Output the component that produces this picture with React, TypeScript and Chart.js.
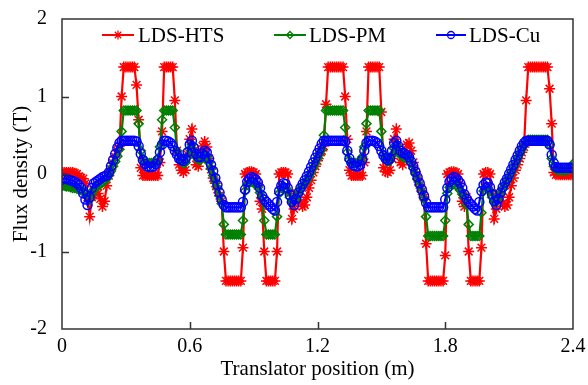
import React, { useEffect, useRef } from 'react';
import { Chart, registerables } from 'chart.js';

Chart.register(...registerables);

// sampling step of the translator position (m)
const STEP = 0.01;

// LDS-HTS flux density (T), one value per STEP from 0 to 2.4 m
const HTS = [
  0.02, 0.02, 0.02, 0.02, 0.02, 0.02, 0.01, 0.0, -0.03, -0.05,
  -0.06, -0.12, -0.3, -0.55, -0.3, -0.22, -0.2, -0.25, -0.32, -0.42,
  -0.35, -0.15, -0.02, 0.06, 0.14, 0.22, 0.3, 0.36, 1.0, 1.38,
  1.38, 1.38, 1.38, 1.38, 1.38, 1.15, 0.7, 0.08, -0.02, -0.02,
  -0.02, -0.02, -0.02, -0.02, -0.02, -0.02, 0.15, 0.55, 1.38, 1.38,
  1.38, 1.38, 1.38, 0.95, 0.3, 0.12, 0.05, 0.02, 0.05, 0.25,
  0.45, 0.58, 0.3, 0.12, 0.1, 0.2, 0.36, 0.42, 0.35, 0.2,
  0.06, -0.05, -0.12, -0.2, -0.28, -0.35, -1.0, -1.38, -1.38, -1.38,
  -1.38, -1.38, -1.38, -1.38, -1.38, -0.95, 0.0, 0.02, 0.03, 0.03,
  0.02, 0.0, -0.15, -0.35, -0.45, -1.0, -1.38, -1.38, -1.38, -1.38,
  -1.38, -1.0, 0.0, 0.02, 0.02, 0.02, 0.0, -0.25, -0.58, -0.45,
  -0.25, -0.3, -0.36, -0.42, -0.4, -0.3, -0.18, -0.08, 0.02, 0.1,
  0.17, 0.24, 0.3, 0.36, 0.9, 1.38, 1.38, 1.38, 1.38, 1.38,
  1.38, 1.38, 1.38, 1.0, 0.45, 0.05, -0.02, -0.02, -0.02, -0.02,
  -0.02, -0.02, 0.15, 0.55, 1.38, 1.38, 1.38, 1.38, 1.38, 1.38,
  0.8, 0.08, 0.03, 0.02, 0.05, 0.2, 0.45, 0.58, 0.32, 0.15,
  0.12, 0.25, 0.38, 0.4, 0.3, 0.15, 0.03, -0.06, -0.14, -0.22,
  -0.3, -0.9, -1.38, -1.38, -1.38, -1.38, -1.38, -1.38, -1.38, -1.38,
  -1.05, 0.0, 0.02, 0.03, 0.03, 0.02, 0.0, -0.12, -0.35, -0.42,
  -0.3, -1.0, -1.38, -1.38, -1.38, -1.38, -1.38, -0.95, 0.0, 0.02,
  0.02, 0.0, -0.25, -0.58, -0.45, -0.25, -0.3, -0.38, -0.42, -0.4,
  -0.3, -0.15, -0.05, 0.05, 0.12, 0.2, 0.28, 0.35, 0.95, 1.38,
  1.38, 1.38, 1.38, 1.38, 1.38, 1.38, 1.38, 1.38, 1.38, 1.1,
  0.65, 0.02, -0.01, -0.01, -0.01, -0.01, -0.01, -0.01, -0.01, -0.01, -0.01,
];

// LDS-PM flux density (T)
const PM = [
  -0.15, -0.15, -0.16, -0.16, -0.17, -0.18, -0.18, -0.19, -0.2, -0.21,
  -0.22, -0.25, -0.3, -0.33, -0.26, -0.2, -0.17, -0.15, -0.13, -0.11,
  -0.09, -0.06, -0.02, 0.04, 0.1, 0.16, 0.23, 0.32, 0.55, 0.82,
  0.82, 0.82, 0.82, 0.82, 0.82, 0.82, 0.65, 0.3, 0.2, 0.16,
  0.14, 0.14, 0.14, 0.14, 0.15, 0.2, 0.35, 0.7, 0.82, 0.82,
  0.82, 0.82, 0.82, 0.6, 0.3, 0.22, 0.18, 0.14, 0.15, 0.22,
  0.32, 0.38, 0.3, 0.22, 0.18, 0.18, 0.22, 0.26, 0.22, 0.15,
  0.07, -0.02, -0.1, -0.18, -0.28, -0.38, -0.65, -0.78, -0.78, -0.78,
  -0.78, -0.78, -0.78, -0.78, -0.78, -0.6, -0.22, -0.14, -0.11, -0.1,
  -0.11, -0.13, -0.17, -0.24, -0.3, -0.6, -0.78, -0.78, -0.78, -0.78,
  -0.78, -0.55, -0.25, -0.18, -0.16, -0.18, -0.22, -0.3, -0.36, -0.35,
  -0.3, -0.25, -0.2, -0.16, -0.12, -0.08, -0.03, 0.02, 0.08, 0.14,
  0.2, 0.26, 0.32, 0.5, 0.82, 0.82, 0.82, 0.82, 0.82, 0.82,
  0.82, 0.82, 0.82, 0.6, 0.28, 0.18, 0.14, 0.14, 0.14, 0.14,
  0.16, 0.22, 0.35, 0.65, 0.82, 0.82, 0.82, 0.82, 0.82, 0.82,
  0.55, 0.25, 0.2, 0.16, 0.17, 0.24, 0.33, 0.38, 0.3, 0.25,
  0.22, 0.21, 0.22, 0.2, 0.14, 0.07, 0.0, -0.07, -0.15, -0.23,
  -0.32, -0.55, -0.8, -0.8, -0.8, -0.8, -0.8, -0.8, -0.8, -0.8,
  -0.6, -0.25, -0.17, -0.14, -0.13, -0.14, -0.17, -0.21, -0.26, -0.3,
  -0.4, -0.65, -0.8, -0.8, -0.8, -0.8, -0.8, -0.5, -0.22, -0.17,
  -0.18, -0.22, -0.3, -0.36, -0.36, -0.3, -0.25, -0.19, -0.14, -0.09,
  -0.04, 0.02, 0.08, 0.14, 0.2, 0.26, 0.32, 0.37, 0.41, 0.44,
  0.44, 0.44, 0.44, 0.44, 0.44, 0.44, 0.44, 0.44, 0.44, 0.38,
  0.2, 0.1, 0.06, 0.05, 0.05, 0.05, 0.05, 0.05, 0.06, 0.09, 0.13,
];

// LDS-Cu flux density (T)
const CU = [
  -0.07, -0.06, -0.06, -0.07, -0.08, -0.09, -0.1, -0.12, -0.14, -0.18,
  -0.25, -0.33, -0.4, -0.3, -0.18, -0.12, -0.1, -0.08, -0.06, -0.04,
  -0.03, -0.02, 0.02, 0.1, 0.18, 0.26, 0.34, 0.4, 0.43, 0.43,
  0.43, 0.43, 0.43, 0.43, 0.43, 0.42, 0.36, 0.26, 0.18, 0.13,
  0.1, 0.09, 0.09, 0.1, 0.13, 0.18, 0.28, 0.38, 0.43, 0.43,
  0.42, 0.4, 0.36, 0.3, 0.25, 0.2, 0.18, 0.17, 0.2, 0.28,
  0.38, 0.43, 0.34, 0.26, 0.22, 0.22, 0.26, 0.3, 0.28, 0.2,
  0.12, 0.04, -0.05, -0.14, -0.24, -0.33, -0.4, -0.43, -0.43, -0.43,
  -0.43, -0.43, -0.43, -0.43, -0.43, -0.36, -0.2, -0.1, -0.06, -0.04,
  -0.05, -0.07, -0.11, -0.18, -0.28, -0.33, -0.36, -0.39, -0.42, -0.45,
  -0.47, -0.36, -0.22, -0.15, -0.12, -0.13, -0.18, -0.27, -0.36, -0.4,
  -0.32, -0.24, -0.18, -0.13, -0.08, -0.03, 0.03, 0.09, 0.15, 0.21,
  0.27, 0.33, 0.39, 0.43, 0.43, 0.43, 0.43, 0.43, 0.43, 0.43,
  0.43, 0.43, 0.43, 0.42, 0.3, 0.2, 0.14, 0.11, 0.1, 0.1,
  0.12, 0.18, 0.3, 0.4, 0.43, 0.43, 0.43, 0.42, 0.4, 0.36,
  0.3, 0.24, 0.2, 0.18, 0.2, 0.3, 0.4, 0.43, 0.36, 0.3,
  0.27, 0.26, 0.25, 0.22, 0.16, 0.1, 0.03, -0.04, -0.12, -0.2,
  -0.28, -0.37, -0.43, -0.43, -0.43, -0.43, -0.43, -0.43, -0.43, -0.43,
  -0.33, -0.18, -0.1, -0.06, -0.04, -0.05, -0.08, -0.12, -0.18, -0.26,
  -0.32, -0.36, -0.39, -0.42, -0.45, -0.47, -0.36, -0.22, -0.14, -0.11,
  -0.12, -0.17, -0.26, -0.35, -0.4, -0.32, -0.24, -0.17, -0.11, -0.06,
  0.0, 0.06, 0.12, 0.18, 0.24, 0.3, 0.36, 0.4, 0.43, 0.43,
  0.43, 0.43, 0.43, 0.43, 0.43, 0.43, 0.43, 0.43, 0.43, 0.38,
  0.25, 0.14, 0.09, 0.08, 0.08, 0.08, 0.08, 0.08, 0.08, 0.08, 0.08,
];

const X_TICKS = [0, 0.6, 1.2, 1.8, 2.4];
const Y_TICKS = [-2, -1, 0, 1, 2];
const SERIES_NAMES = ['LDS-HTS', 'LDS-PM', 'LDS-Cu'];
const X_TITLE = 'Translator position (m)';
const Y_TITLE = 'Flux density (T)';

const COLORS = ['#ff0000', '#008000', '#0000ff'];
const STYLES = ['star', 'rectRot', 'circle'];
const RADII = [5.5, 4.5, 4.5];
const FONT = "'Liberation Serif', 'Times New Roman', serif";

// legend layout: line start, line end, text start
const LEGEND_POS = [
  { x0: 102, x1: 134, tx: 138 },
  { x0: 274, x1: 306, tx: 309 },
  { x0: 436, x1: 466, tx: 469 },
];
const LEGEND_Y = 35;

function drawMarker(ctx: CanvasRenderingContext2D, style: string, x: number, y: number, r: number) {
  ctx.beginPath();
  if (style === 'star') {
    for (let k = 0; k < 4; k++) {
      const a = (k * Math.PI) / 4;
      ctx.moveTo(x - r * Math.cos(a), y - r * Math.sin(a));
      ctx.lineTo(x + r * Math.cos(a), y + r * Math.sin(a));
    }
  } else if (style === 'rectRot') {
    ctx.moveTo(x, y - r);
    ctx.lineTo(x + r, y);
    ctx.lineTo(x, y + r);
    ctx.lineTo(x - r, y);
    ctx.closePath();
  } else {
    ctx.arc(x, y, r, 0, Math.PI * 2);
  }
  ctx.stroke();
}

const framePlugin = {
  id: 'frame',
  afterDatasetsDraw(chart: any) {
    const { ctx, chartArea } = chart;
    const { left, right, top, bottom } = chartArea;
    const xs = chart.scales.x;
    const ys = chart.scales.y;
    ctx.save();
    ctx.strokeStyle = '#333333';
    ctx.lineWidth = 1.5;
    ctx.strokeRect(left, top, right - left, bottom - top);
    ctx.beginPath();
    X_TICKS.slice(1, -1).forEach((v) => {
      const px = Math.round(xs.getPixelForValue(v)) + 0.5;
      ctx.moveTo(px, bottom);
      ctx.lineTo(px, bottom - 7);
    });
    Y_TICKS.slice(1, -1).forEach((v) => {
      const py = Math.round(ys.getPixelForValue(v)) + 0.5;
      ctx.moveTo(left, py);
      ctx.lineTo(left + 7, py);
    });
    ctx.stroke();
    ctx.restore();
  },
};

const legendPlugin = {
  id: 'insideLegend',
  afterDraw(chart: any) {
    const ctx: CanvasRenderingContext2D = chart.ctx;
    ctx.save();
    SERIES_NAMES.forEach((name, k) => {
      const p = LEGEND_POS[k];
      ctx.strokeStyle = COLORS[k];
      ctx.lineWidth = 2;
      ctx.beginPath();
      ctx.moveTo(p.x0, LEGEND_Y);
      ctx.lineTo(p.x1, LEGEND_Y);
      ctx.stroke();
      ctx.lineWidth = 1.3;
      drawMarker(ctx, STYLES[k], (p.x0 + p.x1) / 2, LEGEND_Y, k === 0 ? 4.5 : 3.5);
      ctx.fillStyle = '#000';
      ctx.font = `21px ${FONT}`;
      ctx.textBaseline = 'middle';
      ctx.textAlign = 'left';
      ctx.fillText(name, p.tx, LEGEND_Y + 1);
    });
    ctx.restore();
  },
};

const toPoints = (arr: number[]) => arr.map((v, i) => ({ x: Math.round(i * STEP * 100) / 100, y: v }));

export default function App() {
  const ref = useRef<HTMLCanvasElement>(null);

  useEffect(() => {
    document.body.style.margin = '0';
    const canvas = ref.current;
    if (!canvas) return;
    const seriesValues = [HTS, PM, CU];
    const chart = new Chart(canvas, {
      type: 'line',
      data: {
        datasets: seriesValues.map((vals, k) => ({
          label: SERIES_NAMES[k],
          data: toPoints(vals),
          borderColor: COLORS[k],
          borderWidth: 2.2,
          pointStyle: STYLES[k] as any,
          pointRadius: RADII[k],
          pointBorderWidth: 1.5,
          pointBorderColor: COLORS[k],
          pointBackgroundColor: k === 0 ? COLORS[k] : 'rgba(0,0,0,0)',
          tension: 0,
          order: 3 - k,
        })),
      },
      options: {
        responsive: false,
        animation: false,
        events: [],
        layout: { padding: { top: 13, right: 15, left: 0, bottom: 0 } },
        plugins: { legend: { display: false }, tooltip: { enabled: false } },
        scales: {
          x: {
            type: 'linear',
            min: 0,
            max: 2.4,
            afterBuildTicks: (s: any) => {
              s.ticks = X_TICKS.map((v) => ({ value: v }));
            },
            afterFit: (s: any) => {
              s.height = 56;
            },
            ticks: {
              color: '#000',
              font: { family: FONT, size: 20 },
              padding: -2,
              maxRotation: 0,
              callback: (v: any) => String(v),
            },
            grid: { display: false },
            border: { display: false },
            title: {
              display: true,
              text: X_TITLE,
              color: '#000',
              font: { family: FONT, size: 21 },
              padding: { top: 0, bottom: 3 },
            },
          },
          y: {
            type: 'linear',
            min: -2,
            max: 2,
            afterBuildTicks: (s: any) => {
              s.ticks = Y_TICKS.map((v) => ({ value: v }));
            },
            afterFit: (s: any) => {
              s.width = 62;
            },
            ticks: {
              color: '#000',
              font: { family: FONT, size: 20 },
              padding: 7,
              callback: (v: any) => String(v),
            },
            grid: { display: false },
            border: { display: false },
            title: {
              display: true,
              text: Y_TITLE,
              color: '#000',
              font: { family: FONT, size: 21 },
              padding: { top: 9, bottom: 0 },
            },
          },
        },
      },
      plugins: [framePlugin, legendPlugin],
    });
    return () => chart.destroy();
  }, []);

  return <canvas ref={ref} width={588} height={385} style={{ display: 'block' }} />;
}
